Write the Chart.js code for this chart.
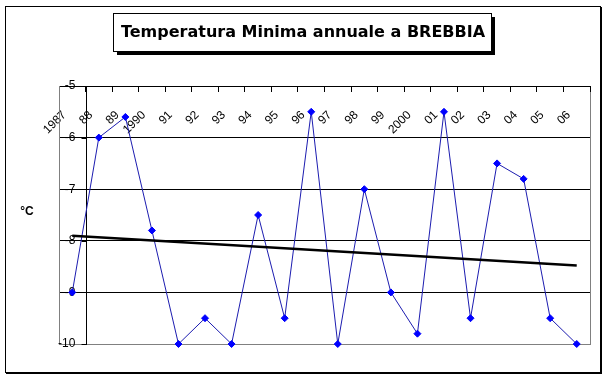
<!DOCTYPE html>
<html>
<head>
<meta charset="utf-8">
<script src="https://cdn.jsdelivr.net/npm/chart.js@4"></script>
<style>
  html, body { margin: 0; padding: 0; background: #fff; }
</style>
</head>
<body>
<canvas id="tempChart" width="607" height="380"></canvas>
<script>
const years = ["1987", "88", "89", "1990", "91", "92", "93", "94", "95", "96",
               "97", "98", "99", "2000", "01", "02", "03", "04", "05", "06"];
const minTemps = [-9, -6, -5.6, -7.8, -10, -9.5, -10, -7.5, -9.5, -5.5,
                  -10, -7, -9, -9.8, -5.5, -9.5, -6.5, -6.8, -9.5, -10];
const trendEnds = [-7.9, -8.48]; // linea di tendenza, primo e ultimo anno
const yTicks = [-10, -9, -8, -7, -6, -5];
const chartTitle = "Temperatura Minima annuale a BREBBIA";
const unitLabel = "°C";

const trendData = years.map((y, i) =>
  i === 0 ? trendEnds[0] : (i === years.length - 1 ? trendEnds[1] : null));

const labelFont = { family: "Liberation Sans, Arial, sans-serif", size: 12 };

// cornice esterna, box del titolo con ombra, etichetta °C
const decor = {
  id: "decor",
  beforeDraw(chart) {
    const ctx = chart.ctx;
    const a = chart.chartArea;
    ctx.save();
    ctx.fillStyle = "#fff";
    ctx.fillRect(0, 0, chart.width, chart.height);

    ctx.strokeStyle = "#000";
    ctx.lineWidth = 1;
    ctx.strokeRect(5.5, 6.5, 595, 366);
    ctx.beginPath();
    ctx.moveTo(601.5, 7); ctx.lineTo(601.5, 374);
    ctx.moveTo(6, 373.5); ctx.lineTo(602, 373.5);
    ctx.stroke();

    // bordo grigio dell'area del grafico
    ctx.strokeStyle = "#808080";
    ctx.strokeRect(Math.round(a.left) + 0.5, Math.round(a.top) + 0.5,
                   Math.round(a.right - a.left), Math.round(a.bottom - a.top));

    // titolo
    const bx = 113, by = 13, bw = 378, bh = 38;
    ctx.fillStyle = "#000";
    ctx.fillRect(bx + 4, by + 4, bw, bh);
    ctx.fillStyle = "#fff";
    ctx.fillRect(bx, by, bw, bh);
    ctx.strokeStyle = "#000";
    ctx.strokeRect(bx + 0.5, by + 0.5, bw, bh);
    ctx.fillStyle = "#000";
    ctx.font = 'bold 16px "DejaVu Sans", sans-serif';
    ctx.textAlign = "center";
    ctx.textBaseline = "alphabetic";
    ctx.fillText(chartTitle, bx + bw / 2 + 1, 37);

    ctx.font = 'bold 12px "Liberation Sans", Arial, sans-serif';
    ctx.textAlign = "center";
    ctx.textBaseline = "middle";
    ctx.fillText(unitLabel, 27, 212);
    ctx.restore();
  },
  // asse verticale nero tra la prima e la seconda categoria
  beforeDatasetsDraw(chart) {
    const { ctx, scales: { x, y } } = chart;
    const px = Math.round(x.getPixelForValue(0.5)) + 0.5;
    ctx.save();
    ctx.strokeStyle = "#000";
    ctx.lineWidth = 1;
    ctx.beginPath();
    ctx.moveTo(px, Math.round(y.getPixelForValue(y.max)));
    ctx.lineTo(px, Math.round(y.getPixelForValue(y.min)) + 1);
    yTicks.forEach(v => {
      const py = Math.round(y.getPixelForValue(v)) + 0.5;
      ctx.moveTo(px - 5, py);
      ctx.lineTo(px, py);
    });
    ctx.stroke();
    ctx.restore();
  }
};

const ctx = document.getElementById("tempChart").getContext("2d");

new Chart(ctx, {
  type: "line",
  data: {
    labels: years,
    datasets: [
      {
        label: "Tendenza",
        data: trendData,
        borderColor: "#000",
        borderWidth: 2.5,
        pointRadius: 0,
        spanGaps: true,
        clip: false,
        order: 0
      },
      {
        label: "Temperatura minima",
        data: minTemps,
        borderColor: "#1c1cb0",
        borderWidth: 1,
        pointStyle: "rectRot",
        pointRadius: 3.5,
        pointBackgroundColor: "#0000ff",
        pointBorderColor: "#0000ff",
        pointBorderWidth: 1,
        clip: false,
        order: 1
      }
    ]
  },
  options: {
    responsive: false,
    devicePixelRatio: 1,
    animation: false,
    layout: { padding: { left: 59, right: 17, top: 86, bottom: 36 } },
    plugins: {
      legend: { display: false },
      tooltip: { enabled: false },
      title: { display: false }
    },
    scales: {
      x: {
        type: "category",
        position: { y: -5 },
        offset: true,
        grid: { offset: true, drawOnChartArea: false, tickLength: 5, color: "#000" },
        border: { color: "#000" },
        ticks: {
          autoSkip: false,
          minRotation: 45,
          maxRotation: 45,
          labelOffset: -8,
          padding: 17,
          color: "#000",
          font: labelFont
        }
      },
      y: {
        type: "linear",
        position: "left",
        min: -10,
        max: -5,
        afterBuildTicks: s => { s.ticks = yTicks.map(v => ({ value: v })); },
        afterFit: s => { s.width = 0; },
        grid: {
          drawTicks: false,
          color: c => (c.tick && c.tick.value === -10 ? "#808080" : "#000")
        },
        border: { color: "#808080" },
        ticks: { mirror: true, crossAlign: "far", padding: -1, color: "#000", font: labelFont }
      }
    }
  },
  plugins: [decor]
});
</script>
</body>
</html>
